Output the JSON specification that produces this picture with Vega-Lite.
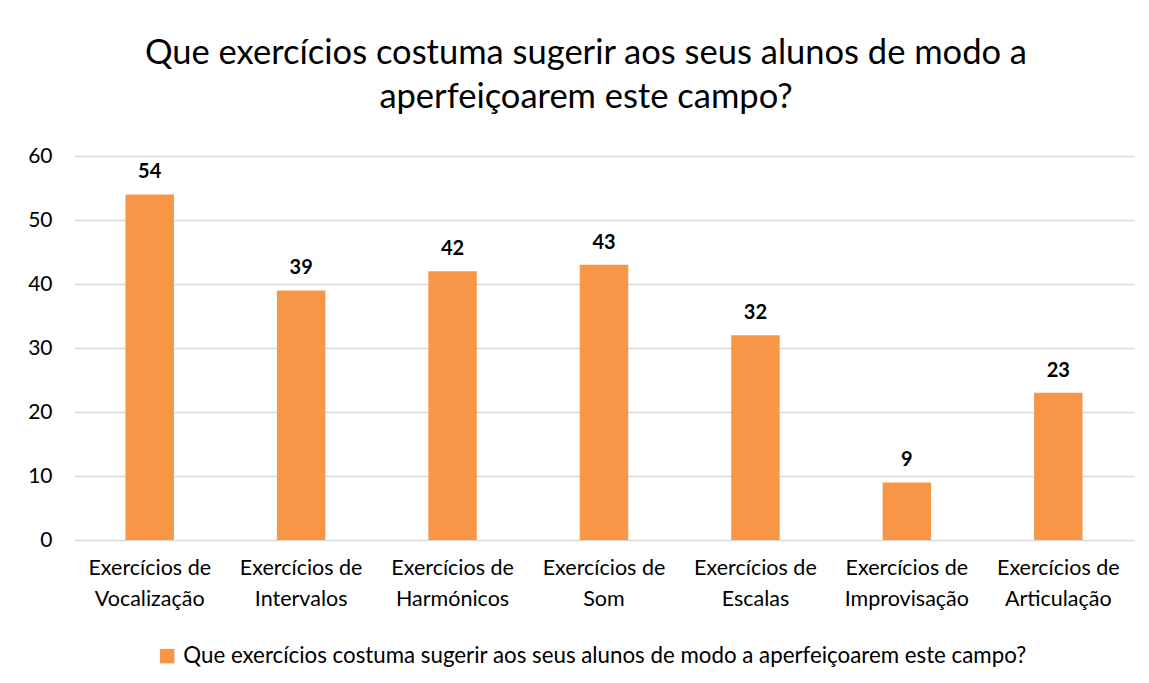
{
  "$schema": "https://vega.github.io/schema/vega-lite/v6.json",
  "autosize": {"type": "none"},
  "width": 1060,
  "height": 384,
  "padding": {"left": 74, "top": 156, "right": 15, "bottom": 143},
  "background": "white",
  "title": {
    "text": ["Que exercícios costuma sugerir aos seus alunos de modo a", "aperfeiçoarem este campo?"],
    "anchor": "middle",
    "frame": "group",
    "dx": -18,
    "offset": 30,
    "font": "Lato",
    "fontSize": 34.5,
    "fontWeight": "normal",
    "color": "#000000",
    "lineHeight": 44
  },
  "data": {
    "values": [
      {"categoria": "Exercícios de Vocalização", "valor": 54},
      {"categoria": "Exercícios de Intervalos", "valor": 39},
      {"categoria": "Exercícios de Harmónicos", "valor": 42},
      {"categoria": "Exercícios de Som", "valor": 43},
      {"categoria": "Exercícios de Escalas", "valor": 32},
      {"categoria": "Exercícios de Improvisação", "valor": 9},
      {"categoria": "Exercícios de Articulação", "valor": 23}
    ]
  },
  "encoding": {
    "x": {
      "field": "categoria",
      "type": "nominal",
      "sort": null,
      "scale": {"paddingInner": 0.68, "paddingOuter": 0.34},
      "axis": {
        "title": null,
        "labelAngle": 0,
        "labelExpr": "[substring(datum.label, 0, 13), substring(datum.label, 14)]",
        "labelFont": "Lato",
        "labelFontSize": 21.5,
        "labelColor": "#000000",
        "labelLineHeight": 31,
        "labelPadding": 17,
        "labelLimit": 300,
        "ticks": false,
        "domain": false
      }
    },
    "y": {
      "field": "valor",
      "type": "quantitative",
      "scale": {"domain": [0, 60]},
      "axis": {
        "title": null,
        "values": [0, 10, 20, 30, 40, 50, 60],
        "labelFont": "Lato",
        "labelFontSize": 21,
        "labelColor": "#000000",
        "labelPadding": 22,
        "ticks": false,
        "domain": false,
        "gridColor": "#D9D9D9",
        "gridWidth": 1.5
      }
    }
  },
  "layer": [
    {
      "mark": {"type": "bar", "color": "#F79646"},
      "encoding": {
        "color": {
          "datum": "Que exercícios costuma sugerir aos seus alunos de modo a aperfeiçoarem este campo?",
          "scale": {"range": ["#F79646"]},
          "legend": {
            "title": null,
            "orient": "none",
            "legendX": 82,
            "legendY": 489,
            "direction": "horizontal",
            "symbolType": "square",
            "symbolSize": 210,
            "symbolStrokeWidth": 0,
            "labelFont": "Lato",
            "labelFontSize": 22.3,
            "labelColor": "#000000",
            "labelLimit": 1000,
            "labelOffset": 5
          }
        }
      }
    },
    {
      "mark": {"type": "text", "baseline": "bottom", "dy": -12, "font": "Lato", "fontSize": 20, "fontWeight": "bold", "color": "#000000"},
      "encoding": {"text": {"field": "valor", "type": "quantitative"}}
    }
  ],
  "config": {"view": {"stroke": null}}
}
